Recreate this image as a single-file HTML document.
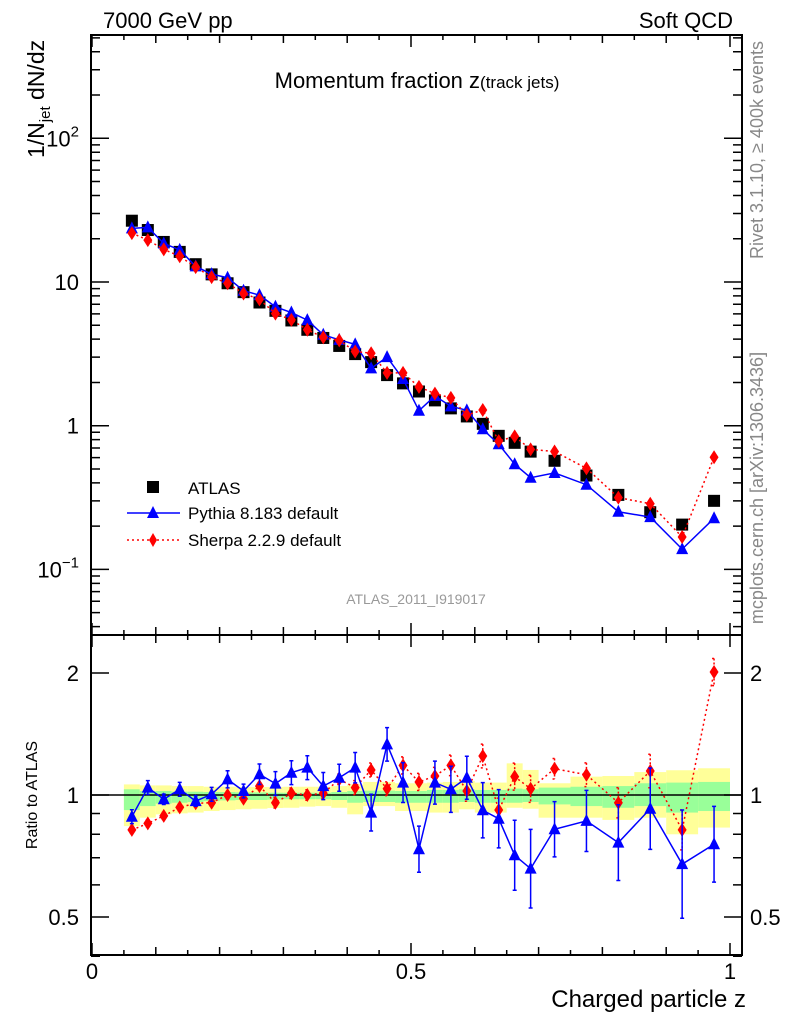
<!DOCTYPE html>
<html><head><meta charset="utf-8"><style>
body{margin:0;background:#fff;}
svg{display:block;font-family:"Liberation Sans",sans-serif;}
</style></head><body>
<svg id="chart" width="786" height="1024" viewBox="0 0 786 1024" xmlns="http://www.w3.org/2000/svg">
<g id="bands"></g>
<g id="marks"></g>
<g id="axes"></g>
<text x="103" y="28" font-size="22">7000 GeV pp</text>
<text x="733" y="28" font-size="22" text-anchor="end">Soft QCD</text>
<text x="417" y="88" font-size="22" text-anchor="middle">Momentum fraction z<tspan font-size="17">(track jets)</tspan></text>
<text x="416" y="604" font-size="14" fill="#999" text-anchor="middle">ATLAS_2011_I919017</text>
<text transform="translate(763,150) rotate(-90)" font-size="18" fill="#888" text-anchor="middle">Rivet 3.1.10, ≥ 400k events</text>
<text transform="translate(763,488) rotate(-90)" font-size="18" fill="#888" text-anchor="middle">mcplots.cern.ch [arXiv:1306.3436]</text>
<text transform="translate(44,158) rotate(-90)" font-size="23" text-anchor="start">1/N<tspan font-size="15" dy="6">jet</tspan><tspan dy="-6"> dN/dz</tspan></text>
<text transform="translate(37,795) rotate(-90)" font-size="16" text-anchor="middle">Ratio to ATLAS</text>
<text x="746" y="1007" font-size="24" text-anchor="end">Charged particle z</text>
<g>
<rect x="147" y="481" width="12" height="12" fill="#000"/>
<text x="188" y="494" font-size="17">ATLAS</text>
<line x1="127" y1="513" x2="180" y2="513" stroke="#00f" stroke-width="1.5"/>
<polygon points="153,506 159,518 147,518" fill="#00f"/>
<text x="188" y="519" font-size="17">Pythia 8.183 default</text>
<line x1="127" y1="540" x2="180" y2="540" stroke="#f00" stroke-width="1.5" stroke-dasharray="2,3"/>
<polygon points="153,533 157,540 153,547 149,540" fill="#f00"/>
<text x="188" y="546" font-size="17">Sherpa 2.2.9 default</text>
</g>
</svg>
<script>
const zCenters=[0.0625,0.0875,0.1125,0.1375,0.1625,0.1875,0.2125,0.2375,0.2625,0.2875,0.3125,0.3375,0.3625,0.3875,0.4125,0.4375,0.4625,0.4875,0.5125,0.5375,0.5625,0.5875,0.6125,0.6375,0.6625,0.6875,0.725,0.775,0.825,0.875,0.925,0.975];
const binEdges=[0.05,0.075,0.1,0.125,0.15,0.175,0.2,0.225,0.25,0.275,0.3,0.325,0.35,0.375,0.4,0.425,0.45,0.475,0.5,0.525,0.55,0.575,0.6,0.625,0.65,0.675,0.7,0.75,0.8,0.85,0.9,0.95,1.0];
const atlasValues=[26.7,23,19,16.2,13.3,11.3,9.8,8.5,7.2,6.3,5.4,4.65,4.08,3.59,3.15,2.77,2.25,1.97,1.73,1.5,1.32,1.16,1.03,0.85,0.76,0.66,0.57,0.45,0.33,0.25,0.205,0.30];
const pythiaRatio=[0.884,1.043,0.976,1.033,0.966,1.004,1.093,1.023,1.125,1.067,1.135,1.168,1.052,1.103,1.168,0.905,1.333,1.073,0.735,1.073,1.033,1.103,0.917,0.874,0.710,0.658,0.823,0.863,0.763,0.925,0.675,0.756];
const pythiaErr=[0.04,0.04,0.03,0.04,0.03,0.04,0.05,0.04,0.06,0.07,0.07,0.07,0.08,0.08,0.09,0.11,0.10,0.12,0.14,0.13,0.14,0.13,0.17,0.18,0.22,0.25,0.17,0.19,0.24,0.26,0.36,0.24];
const sherpaRatio=[0.820,0.851,0.888,0.932,0.954,0.957,1.000,0.979,1.052,0.957,1.010,1.000,1.010,1.093,1.043,1.153,1.036,1.183,1.077,1.114,1.183,1.023,1.248,0.918,1.110,1.036,1.161,1.122,0.957,1.146,0.820,2.011];
const sherpaErr=[0.02,0.02,0.02,0.02,0.02,0.02,0.02,0.02,0.02,0.03,0.03,0.03,0.03,0.03,0.04,0.04,0.04,0.05,0.05,0.05,0.06,0.06,0.07,0.07,0.08,0.08,0.06,0.07,0.09,0.10,0.12,0.08];
const yellowHi=[1.062,1.056,1.056,1.052,1.052,1.048,1.048,1.046,1.046,1.046,1.048,1.048,1.048,1.052,1.062,1.077,1.077,1.069,1.069,1.073,1.077,1.083,1.073,1.073,1.197,1.153,1.069,1.110,1.114,1.139,1.151,1.164];
const yellowLo=[0.838,0.879,0.896,0.901,0.905,0.913,0.918,0.922,0.925,0.929,0.930,0.936,0.939,0.930,0.896,0.939,0.939,0.913,0.913,0.905,0.905,0.922,0.905,0.905,0.930,0.925,0.879,0.879,0.868,0.879,0.800,0.831];
const greenHi=[1.033,1.023,1.023,1.019,1.019,1.017,1.017,1.015,1.015,1.013,1.013,1.013,1.013,1.017,1.023,1.025,1.025,1.023,1.023,1.029,1.029,1.033,1.029,1.029,1.037,1.033,1.043,1.048,1.052,1.069,1.073,1.077];
const greenLo=[0.918,0.939,0.952,0.957,0.961,0.966,0.970,0.972,0.972,0.974,0.976,0.976,0.976,0.972,0.957,0.961,0.961,0.957,0.957,0.957,0.957,0.961,0.957,0.957,0.957,0.961,0.948,0.939,0.930,0.939,0.905,0.913];
const mainTickLabels=["10\u207B\u00B9","1","10","10\u00B2"];
const ratioTickLabels=["0.5","1","2"];
const xTickLabels=["0","0.5","1"];

const NS="http://www.w3.org/2000/svg";
const L=91,R=742,T=35,MID=635,B=955;
const X0=92,X1=730;
function xs(z){return X0+(X1-X0)*z;}
function ym(v){return 425.7-143.7*Math.log10(v);}
function yr(r){return 795-122*Math.log2(r);}
function mk(tag,attrs,parent){const e=document.createElementNS(NS,tag);for(const k in attrs)e.setAttribute(k,attrs[k]);parent.appendChild(e);return e;}
const bands=document.getElementById('bands'),marks=document.getElementById('marks'),axes=document.getElementById('axes');

for(let i=0;i<zCenters.length;i++){
 const x1=xs(binEdges[i]),x2=xs(binEdges[i+1]);
 const y=mk('rect',{x:x1,y:yr(yellowHi[i]),width:x2-x1,height:yr(yellowLo[i])-yr(yellowHi[i]),fill:'#ffff99'},bands);
 
 
 const g=mk('rect',{x:x1,y:yr(greenHi[i]),width:x2-x1,height:yr(greenLo[i])-yr(greenHi[i]),fill:'#99ff99'},bands);
 
 
}
const one=mk('line',{x1:L,x2:R,y1:yr(1),y2:yr(1),stroke:'#000','stroke-width':1.5},bands);



function series(vals,errs,color,dash,shape,yf,name,noLine){
 if(!noLine){
 const pts=vals.map((v,i)=>xs(zCenters[i])+','+yf(v)).join(' ');
 const pl=mk('polyline',{points:pts,fill:'none',stroke:color,'stroke-width':1.5},marks);
 if(dash)pl.setAttribute('stroke-dasharray',dash);
 
 
 }
 vals.forEach((v,i)=>{
  const x=xs(zCenters[i]),y=yf(v);
  if(errs){
   const eb=mk('path',{d:`M${x},${yf(v*(1+errs[i]))}V${yf(v/(1+errs[i]))}M${x-2},${yf(v*(1+errs[i]))}h4M${x-2},${yf(v/(1+errs[i]))}h4`,stroke:color,'stroke-width':1.5,fill:'none'},marks);
   if(dash)eb.setAttribute('stroke-dasharray','2,2');
   
   
  }
  let m;
  if(shape==='tri')m=mk('polygon',{points:`${x},${y-7} ${x+6},${y+5} ${x-6},${y+5}`,fill:color},marks);
  else if(shape==='dia')m=mk('polygon',{points:`${x},${y-7} ${x+4.5},${y} ${x},${y+7} ${x-4.5},${y}`,fill:color},marks);
  else m=mk('rect',{x:x-6,y:y-6,width:12,height:12,fill:color},marks);
  
  
 });
}
series(atlasValues,null,'#000',null,'sq',ym,'atlas',true);
series(atlasValues.map((v,i)=>v*pythiaRatio[i]),null,'#00f',null,'tri',ym,'pythia');
series(atlasValues.map((v,i)=>v*sherpaRatio[i]),null,'#f00','2,3','dia',ym,'sherpa');
series(sherpaRatio,sherpaErr,'#f00','2,3','dia',yr,'sherpa-ratio');
series(pythiaRatio,pythiaErr,'#00f',null,'tri',yr,'pythia-ratio');

[[T,MID],[MID,B]].forEach(([a,b],k)=>{
 const f=mk('rect',{x:L,y:a,width:R-L,height:b-a,fill:'none',stroke:'#000','stroke-width':2},axes);
 
 
});
let d='';
for(let k=0;k<=20;k++){const z=k*0.05,x=xs(z),len=(k%10===0)?12:(k%2===0?8:5);
 d+=`M${x},${B}v${-len}M${x},${MID}v${len}M${x},${MID}v${-len}M${x},${T}v${len}`;}
for(let e=-2;e<=2;e++){for(let m=1;m<=9;m++){const v=m*Math.pow(10,e),y=ym(v);if(y<T||y>MID)continue;const len=m===1?18:9;
 d+=`M${L},${y}h${len}M${R},${y}h${-len}`;}}
[0.4,0.5,0.6,0.7,0.8,0.9,1,2].forEach(v=>{const y=yr(v);const len=(v===0.5||v===1||v===2)?18:9;d+=`M${L},${y}h${len}M${R},${y}h${-len}`;});
mk('path',{d:d,stroke:'#000','stroke-width':1.5,fill:'none'},axes);
[0.1,1,10,100].forEach((v,i)=>{
 const t=mk('text',{x:79,y:ym(v)+8,'font-size':22,'text-anchor':'end'},axes);
 if(i===0){t.textContent='10';const s=mk('tspan',{'font-size':15,dy:-10},t);s.textContent='\u22121';}
 else if(i===3){t.textContent='10';const s=mk('tspan',{'font-size':15,dy:-10},t);s.textContent='2';}
 else t.textContent=mainTickLabels[i];
 
 
});
[0.5,1,2].forEach((v,i)=>{
 ['end','start'].forEach((a,j)=>{
  const t=mk('text',{x:j?750:79,y:yr(v)+8,'font-size':22,'text-anchor':a},axes);
  t.textContent=ratioTickLabels[i];
  
  
 });
});
[0,0.5,1].forEach((z,i)=>{
 const t=mk('text',{x:xs(z),y:979,'font-size':22,'text-anchor':'middle'},axes);
 t.textContent=xTickLabels[i];
 
 
});
</script>
</body></html>
